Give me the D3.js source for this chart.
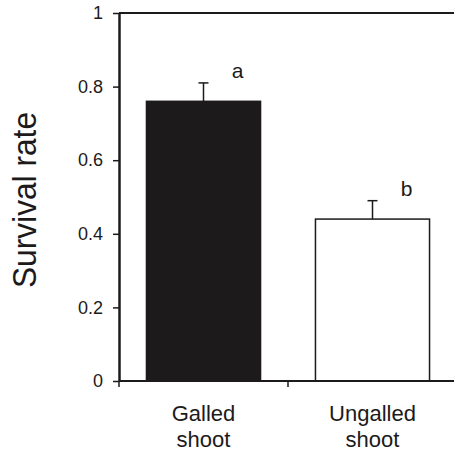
<!DOCTYPE html>
<html>
<head>
<meta charset="utf-8">
<script src="https://cdn.jsdelivr.net/npm/d3@7"></script>
<style>
  html, body { margin: 0; padding: 0; background: #fff; }
  svg { display: block; font-family: "Liberation Sans", Arial, Helvetica, sans-serif; }
</style>
</head>
<body>
<svg id="chart" width="454" height="452"></svg>
<script>
const categories = ["Galled shoot", "Ungalled shoot"];
const survival = [0.76, 0.44];
const errors = [0.05, 0.05];
const letters = ["a", "b"];
const barColors = ["#1c1a1a", "#ffffff"];
const yTicks = [0, 0.2, 0.4, 0.6, 0.8, 1];

const svg = d3.select("#chart");
const mLeft = 119, mRight = 457, mTop = 13, mBottom = 381;
const ink = "#1c1a1a";

const x = d3.scaleBand().domain(categories).range([mLeft, mRight])
  .paddingInner(0.325).paddingOuter(0.1625);
const xCat = d3.scaleBand().domain(categories).range([mLeft, mRight]).padding(0);
const y = d3.scaleLinear().domain([0, 1]).range([mBottom, mTop]);

// top frame line
svg.append("line")
  .attr("x1", mLeft).attr("x2", 454)
  .attr("y1", y(1)).attr("y2", y(1))
  .attr("stroke", ink).attr("stroke-width", 2);

// bars
svg.selectAll("rect.bar").data(categories).join("rect")
  .attr("class", "bar")
  .attr("x", d => x(d))
  .attr("width", x.bandwidth())
  .attr("y", (d, i) => y(survival[i]))
  .attr("height", (d, i) => y(0) - y(survival[i]))
  .attr("fill", (d, i) => barColors[i])
  .attr("stroke", ink).attr("stroke-width", 1.5);

// error bars
const eb = svg.selectAll("g.err").data(categories).join("g").attr("class", "err");
eb.append("line")
  .attr("x1", d => x(d) + x.bandwidth() / 2).attr("x2", d => x(d) + x.bandwidth() / 2)
  .attr("y1", (d, i) => y(survival[i])).attr("y2", (d, i) => y(survival[i] + errors[i]))
  .attr("stroke", ink).attr("stroke-width", 1.5);
eb.append("line")
  .attr("x1", d => x(d) + x.bandwidth() / 2 - 5).attr("x2", d => x(d) + x.bandwidth() / 2 + 5)
  .attr("y1", (d, i) => y(survival[i] + errors[i])).attr("y2", (d, i) => y(survival[i] + errors[i]))
  .attr("stroke", ink).attr("stroke-width", 1.5);

// significance letters
svg.selectAll("text.sig").data(categories).join("text")
  .attr("class", "sig")
  .attr("x", d => x(d) + x.bandwidth() / 2 + 34)
  .attr("y", (d, i) => y(survival[i] + errors[i]) - 5)
  .attr("text-anchor", "middle")
  .attr("font-size", 21)
  .attr("fill", ink)
  .text((d, i) => letters[i]);

// y axis
const yAxis = d3.axisLeft(y).tickValues(yTicks)
  .tickFormat(d => (d === 0 || d === 1) ? String(d) : d.toFixed(1))
  .tickSize(6).tickSizeOuter(0).tickPadding(10);
const gy = svg.append("g").attr("transform", `translate(${mLeft},0)`).call(yAxis);
gy.select(".domain").attr("stroke", ink).attr("stroke-width", 2.5);
gy.selectAll(".tick line").attr("stroke", ink).attr("stroke-width", 1.5);
gy.selectAll(".tick text").attr("font-size", 18).attr("fill", ink)
  .attr("font-family", "'Liberation Sans', Arial, sans-serif");

// x axis baseline
svg.append("line")
  .attr("x1", mLeft).attr("x2", 454)
  .attr("y1", y(0)).attr("y2", y(0))
  .attr("stroke", ink).attr("stroke-width", 2);

// x ticks at category boundaries
svg.selectAll("line.xtick").data(categories).join("line")
  .attr("class", "xtick")
  .attr("x1", d => xCat(d)).attr("x2", d => xCat(d))
  .attr("y1", y(0)).attr("y2", y(0) + 6)
  .attr("stroke", ink).attr("stroke-width", 1.5);

// x labels
const xl = svg.selectAll("text.xl").data(categories).join("text")
  .attr("class", "xl")
  .attr("text-anchor", "middle")
  .attr("font-size", 22)
  .attr("fill", ink);
xl.each(function(d) {
  const words = d.split(" ");
  const cx = x(d) + x.bandwidth() / 2;
  d3.select(this).selectAll("tspan").data(words).join("tspan")
    .attr("x", cx)
    .attr("y", (w, j) => 421 + j * 26)
    .text(w => w);
});

// y label
svg.append("text")
  .attr("transform", `translate(36, ${(mTop + mBottom) / 2 + 3}) rotate(-90)`)
  .attr("text-anchor", "middle")
  .attr("font-size", 34)
  .attr("textLength", 176)
  .attr("lengthAdjust", "spacingAndGlyphs")
  .attr("fill", ink)
  .text("Survival rate");
</script>
</body>
</html>
